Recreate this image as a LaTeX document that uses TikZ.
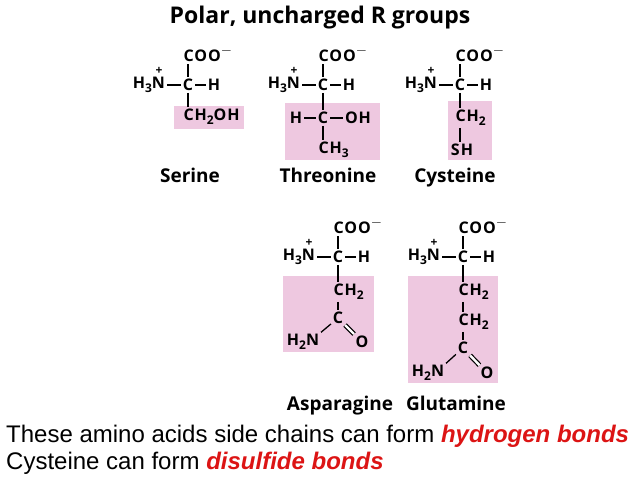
\documentclass[tikz,border=0pt]{standalone}
\usepackage{fontspec}
\setmainfont{Liberation Sans}
\newfontfamily\chem{Open Sans}[LetterSpace=6]
\newfontfamily\lblf{Open Sans}
\definecolor{pinkbox}{RGB}{238,200,224}
\definecolor{redtxt}{RGB}{220,20,20}
\newcommand\sbs[1]{\raisebox{-0.25em}{\fontsize{12}{12}\selectfont #1}}
\tikzset{
 atm/.style={inner sep=0.5pt,outer sep=1.5pt,font=\chem\bfseries\fontsize{16}{16}\selectfont},
 bond/.style={line width=1.3pt},
 dbl/.style={line width=1.2pt,double,double distance=2.4pt},
 lbl/.style={font=\lblf\bfseries\fontsize{19}{19}\selectfont,text depth=0pt,anchor=base},
 box/.style={fill=pinkbox,draw=none}
}
\newcommand\bb[3]{%
 \begin{scope}[shift={(#2,#3)}]
 \node[atm] (#1C) at (0,0) {C};
 \node[atm,anchor=west] (#1O) at (-6.5,-31) {COO\raisebox{0.45em}{\fontsize{14}{14}\selectfont$-$}};
 \node[atm,anchor=east] (#1N) at (-21,0) {H\sbs{3}N};
 \node[inner sep=0pt,font=\lblf\bfseries\fontsize{12}{12}\selectfont] (#1p) at (-29,-14.5) {+};
 \node[atm] (#1H) at (26,0) {H};
 \draw[bond] (#1C.north) -- (#1C.north |- #1O.south);
 \draw[bond] (#1N) -- (#1C);
 \draw[bond] (#1C) -- (#1H);
 \end{scope}}
\begin{document}
\begin{tikzpicture}[x=1pt,y=-1pt]
\useasboundingbox (0,0) rectangle (638,479);
\node[font=\lblf\bfseries\fontsize{23}{23}\selectfont] (title) at (320,18) {Polar, uncharged R groups};
% boxes
\path[box] (174,106) rectangle (244,129);
\path[box] (285,103) rectangle (380,160);
\path[box] (448,101) rectangle (492,160);
\path[box] (283,276) rectangle (374,352);
\path[box] (408,276) rectangle (498,383);
% Serine
\bb{s}{188}{85}
\node[atm,anchor=west] (s1) at (181.5,117) {CH\sbs{2}OH};
\draw[bond] (sC.south) -- (sC.south |- s1.north);
\node[lbl] (sl) at (190,182) {Serine};
% Threonine
\bb{t}{323}{85}
\node[atm] (t1) at (323,118) {C};
\node[atm] (tH) at (296,118) {H};
\node[atm] (tOH) at (358,118) {OH};
\node[atm,anchor=west] (t2) at (316.5,150) {CH\sbs{3}};
\draw[bond] (tC) -- (t1);
\draw[bond] (tH) -- (t1);
\draw[bond] (t1) -- (tOH);
\draw[bond] (t1.south) -- (t1.south |- t2.north);
\node[lbl] (tl) at (328,182) {Threonine};
% Cysteine
\bb{c}{460}{85}
\node[atm,anchor=west] (c1) at (453.5,118) {CH\sbs{2}};
\node[atm] (c2) at (462,150) {SH};
\draw[bond] (cC.south) -- (cC.south |- c1.north);
\draw[bond] (c1.south -| cC) -- (c2.north -| cC);
\node[lbl] (cl) at (455,182) {Cysteine};
% Asparagine
\bb{a}{338}{257}
\node[atm,anchor=west] (a1) at (331.5,292) {CH\sbs{2}};
\node[atm] (a2) at (338,318) {C};
\node[atm] (aN) at (303,342) {H\sbs{2}N};
\node[atm] (aO) at (362,342) {O};
\draw[bond] (aC.south) -- (aC.south |- a1.north);
\draw[bond] (a1.south -| aC) -- (a2);
\draw[bond] (a2) -- (aN.north east);
\draw[dbl] (a2) -- (aO);
\node[lbl] (al) at (340,410) {Asparagine};
% Glutamine
\bb{g}{463}{257}
\node[atm,anchor=west] (g1) at (456.5,292) {CH\sbs{2}};
\node[atm,anchor=west] (g2) at (456.5,322) {CH\sbs{2}};
\node[atm] (g3) at (463,348) {C};
\node[atm] (gN) at (428,373) {H\sbs{2}N};
\node[atm] (gO) at (487,373) {O};
\draw[bond] (gC.south) -- (gC.south |- g1.north);
\draw[bond] (g1.south -| gC) -- (g2.north -| gC);
\draw[bond] (g2.south -| gC) -- (g3);
\draw[bond] (g3) -- (gN.north east);
\draw[dbl] (g3) -- (gO);
\node[lbl] (gl) at (456,410) {Glutamine};
% bottom text
\node[anchor=west,font=\fontsize{24}{24}\selectfont,inner sep=0] (l1) at (6,436) {These amino acids side chains can form \textcolor{redtxt}{\bfseries\itshape hydrogen bonds}};
\node[anchor=west,font=\fontsize{24}{24}\selectfont,inner sep=0] (l2) at (6,463) {Cysteine can form \textcolor{redtxt}{\bfseries\itshape disulfide bonds}};
\end{tikzpicture}
\end{document}
